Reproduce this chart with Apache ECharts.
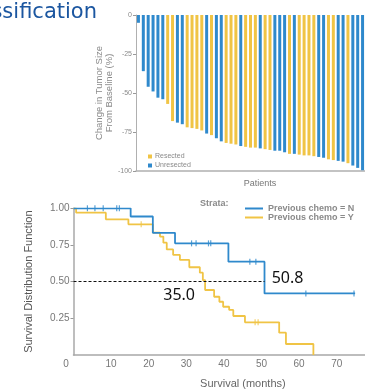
<!DOCTYPE html>
<html>
<head>
<meta charset="utf-8">
<script src="https://cdn.jsdelivr.net/npm/echarts@6/dist/echarts.min.js"></script>
<style>
    html, body { margin: 0; padding: 0; background: #fff; }
    #chart { width: 365px; height: 390px; }
</style>
</head>
<body>
<div id="chart"></div>
<script>
// waterfall: change in tumor size per patient (sorted)
const tumorChange = [
    -5, -36, -46, -49, -53, -54, -57, -68, -69, -70,
    -72, -72.5, -73, -74, -76, -77, -79, -81, -82, -82.5,
    -83, -84, -84.5, -85, -85, -85.5, -86, -86.5, -87, -87,
    -88, -89, -89, -89.5, -90, -90, -90.5, -91, -91.5, -92.5,
    -93, -93.5, -94, -95, -96.5, -98, -99.5,
];
// 1 = resected, 0 = unresected
const resected = [
    0, 0, 0, 0, 0, 0, 1, 1, 0, 0,
    1, 1, 1, 1, 0, 1, 0, 0, 1, 1,
    1, 0, 1, 1, 1, 0, 1, 1, 0, 0,
    0, 1, 0, 1, 1, 1, 1, 0, 0, 1,
    1, 0, 0, 1, 0, 0, 0,
];
const waterfallTicks = [0, -25, -50, -75, -100];

// Kaplan-Meier curves [months, survival]
const survivalN = [
    [0, 1], [15.2, 0.944], [21.1, 0.833], [27.0, 0.761],
    [41.2, 0.636], [50.8, 0.42], [74.9, 0.42],
];
const survivalY = [
    [0, 1], [0.7, 0.97], [8.6, 0.925], [14.6, 0.891], [21.1, 0.834],
    [23.0, 0.807], [23.9, 0.766], [24.8, 0.72], [26.5, 0.682], [28.3, 0.648],
    [30.8, 0.598], [33.6, 0.561], [34.4, 0.511], [35.0, 0.443], [37.4, 0.397],
    [38.8, 0.363], [39.8, 0.329], [41.4, 0.307], [42.5, 0.266], [45.6, 0.223],
    [54.7, 0.152], [56.5, 0.075], [63.8, 0],
];
// censored observations
const censorN = [
    [3.7, 1], [5.7, 1], [7.9, 1], [11.5, 1], [12.2, 1],
    [31.4, 0.761], [32.6, 0.761], [35.9, 0.761], [36.5, 0.761],
    [46.9, 0.636], [48.5, 0.636], [61.8, 0.42], [74.6, 0.42],
];
const censorY = [[18.0, 0.891], [48.3, 0.223], [49.1, 0.223]];
const medianY = 35.0;
const medianN = 50.8;

const blue = '#2f89cc';
const yellow = '#f0c445';
const grey = '#8a8a8a';

const patients = tumorChange.map((v, i) => String(i + 1));
const resectedData = tumorChange.map((v, i) => (resected[i] ? v : '-'));
const unresectedData = tumorChange.map((v, i) => (resected[i] ? '-' : v));

const chart = echarts.init(document.getElementById('chart'), null, { renderer: 'canvas' });

const option = {
    animation: false,
    textStyle: { fontFamily: 'Liberation Sans, Arial, sans-serif' },
    graphic: [
        {
            type: 'text',
            x: 97,
            y: 2,
            style: {
                text: 'Classification',
                fontFamily: 'DejaVu Sans',
                fontSize: 21,
                fill: '#1b56a0',
                align: 'right',
                verticalAlign: 'top',
            },
        },
        {
            type: 'text',
            x: 200,
            y: 199,
            style: {
                text: 'Strata:',
                fontFamily: 'Liberation Sans',
                fontWeight: 'bold',
                fontSize: 9,
                fill: grey,
            },
        },
    ],
    legend: [
        {
            data: ['Resected', 'Unresected'],
            orient: 'vertical',
            left: 143,
            top: 148,
            itemWidth: 4,
            itemHeight: 4,
            itemGap: 2,
            icon: 'rect',
            textStyle: { fontSize: 7, color: grey, padding: [0, 0, 0, -2] },
        },
        {
            data: ['Previous chemo = N', 'Previous chemo = Y'],
            orient: 'vertical',
            left: 240,
            top: 199,
            itemWidth: 18,
            itemHeight: 2,
            itemGap: 0,
            icon: 'rect',
            textStyle: { fontSize: 9, fontWeight: 'bold', color: grey, lineHeight: 9 },
        },
    ],
    grid: [
        { left: 136, top: 15, width: 229, height: 156, outerBoundsMode: 'none', containLabel: false },
        { left: 73.5, top: 208.3, width: 300.8, height: 146.7, outerBoundsMode: 'none', containLabel: false },
    ],
    xAxis: [
        {
            gridIndex: 0,
            type: 'category',
            data: patients,
            axisLine: { onZero: false, lineStyle: { color: '#b0b0b0', width: 1.5 } },
            axisTick: { show: false },
            axisLabel: { show: false },
            name: 'Patients',
            nameLocation: 'middle',
            nameGap: 8,
            nameTextStyle: { fontSize: 9, color: '#777', padding: [0, 0, 0, 19] },
        },
        {
            gridIndex: 1,
            type: 'value',
            min: 0,
            max: 80,
            interval: 10,
            splitLine: { show: false },
            axisLine: { lineStyle: { color: '#a8a8a8', width: 1.5 } },
            axisTick: { show: false },
            axisLabel: {
                fontSize: 10,
                color: '#777',
                margin: 4,
                formatter: (v) => (v === 0 ? '{z|0}' : String(v)),
                rich: { z: { fontSize: 10, color: '#777', padding: [0, 15, 0, 0] } },
            },
            name: 'Survival (months)',
            nameLocation: 'middle',
            nameGap: 23,
            nameTextStyle: { fontSize: 11, color: '#666', padding: [0, 0, 0, 38] },
        },
    ],
    yAxis: [
        {
            gridIndex: 0,
            type: 'value',
            min: -100,
            max: 0,
            interval: 25,
            splitLine: { show: false },
            axisLine: { show: true, lineStyle: { color: '#b0b0b0', width: 1 } },
            axisTick: { show: true, length: 3, lineStyle: { color: '#999' } },
            axisLabel: {
                fontSize: 7,
                color: grey,
                margin: 4,
                formatter: (v) => (waterfallTicks.includes(v) ? String(v) : ''),
            },
            name: 'Change in Tumor Size\nFrom Baseline (%)',
            nameLocation: 'middle',
            nameRotate: 90,
            nameGap: 22,
            nameMoveOverlap: false,
            nameTextStyle: { fontSize: 9.5, color: grey, lineHeight: 10 },
        },
        {
            gridIndex: 1,
            type: 'value',
            min: 0,
            max: 1,
            interval: 0.25,
            splitLine: { show: false },
            axisLine: { show: true, lineStyle: { color: '#a8a8a8', width: 1.5 } },
            axisTick: { show: true, length: 3, lineStyle: { color: '#999' } },
            axisLabel: {
                fontSize: 10,
                color: '#777',
                margin: 4,
                showMinLabel: false,
                formatter: (v) => v.toFixed(2),
            },
            name: 'Survival Distribution Function',
            nameLocation: 'middle',
            nameRotate: 90,
            nameGap: 39,
            nameTextStyle: { fontSize: 11, color: '#555', fontFamily: 'Liberation Sans Narrow, Liberation Sans' },
        },
    ],
    series: [
        {
            name: 'Resected',
            type: 'bar',
            xAxisIndex: 0,
            yAxisIndex: 0,
            data: resectedData,
            barWidth: 3,
            barGap: '-100%',
            itemStyle: { color: yellow },
        },
        {
            name: 'Unresected',
            type: 'bar',
            xAxisIndex: 0,
            yAxisIndex: 0,
            data: unresectedData,
            barWidth: 3,
            itemStyle: { color: blue },
        },
        {
            name: 'Previous chemo = Y',
            type: 'line',
            xAxisIndex: 1,
            yAxisIndex: 1,
            step: 'end',
            data: survivalY,
            showSymbol: false,
            color: yellow,
            lineStyle: { width: 1.8 },
            markPoint: {
                symbol: 'circle',
                symbolSize: 1,
                itemStyle: { color: 'transparent' },
                label: {
                    show: true,
                    formatter: () => medianY.toFixed(1),
                    fontFamily: 'Noto Sans',
                    fontSize: 16,
                    color: '#111',
                    offset: [-26, 14],
                },
                data: [{ coord: [medianY, 0.5] }],
            },
        },
        {
            name: 'Previous chemo = N',
            type: 'line',
            xAxisIndex: 1,
            yAxisIndex: 1,
            step: 'end',
            data: survivalN,
            showSymbol: false,
            color: blue,
            lineStyle: { width: 1.8 },
            markLine: {
                silent: true,
                symbol: 'none',
                label: { show: false },
                lineStyle: { color: '#111', type: [3, 2], width: 1 },
                data: [[{ coord: [0, 0.5] }, { coord: [medianN, 0.5] }]],
            },
            markPoint: {
                symbol: 'circle',
                symbolSize: 1,
                itemStyle: { color: 'transparent' },
                label: {
                    show: true,
                    formatter: () => medianN.toFixed(1),
                    fontFamily: 'Noto Sans',
                    fontSize: 16,
                    color: '#111',
                    offset: [23, -3],
                },
                data: [{ coord: [medianN, 0.5] }],
            },
        },
        {
            name: 'censorY',
            type: 'scatter',
            xAxisIndex: 1,
            yAxisIndex: 1,
            data: censorY,
            symbol: 'rect',
            symbolSize: [1.2, 6],
            itemStyle: { color: yellow },
        },
        {
            name: 'censorN',
            type: 'scatter',
            xAxisIndex: 1,
            yAxisIndex: 1,
            data: censorN,
            symbol: 'rect',
            symbolSize: [1.2, 6],
            itemStyle: { color: blue },
        },
    ],
};

chart.setOption(option);
</script>
</body>
</html>
